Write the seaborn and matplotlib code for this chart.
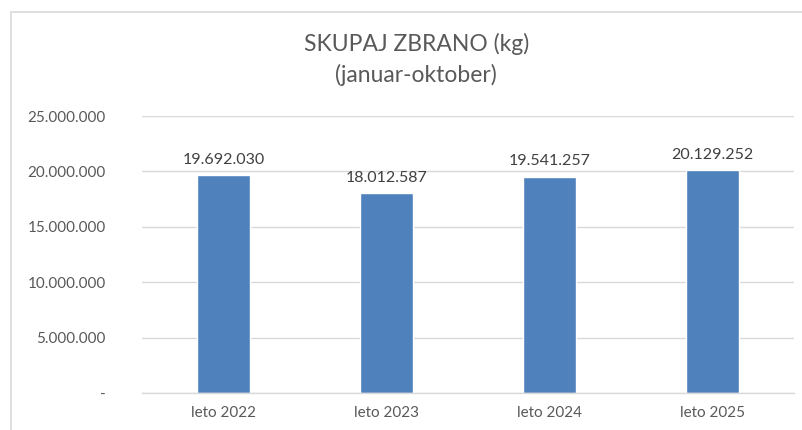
# ============================================
# SKUPAJ ZBRANO - BAR CHART
# ============================================

import matplotlib
matplotlib.use("Agg")

import matplotlib.pyplot as plt
import seaborn as sns
import pandas as pd
from matplotlib.ticker import FuncFormatter, MultipleLocator
from matplotlib.patches import Rectangle

# ============================================
# DATA
# ============================================

years = ["leto 2022", "leto 2023", "leto 2024", "leto 2025"]
collected_kg = [19692030, 18012587, 19541257, 20129252]

df = pd.DataFrame({"Leto": years, "Zbrano": collected_kg})

# ============================================
# STYLE SETTINGS
# ============================================

sns.set_style("white")

plt.rcParams['font.family'] = ['Lato', 'DejaVu Sans']

text_grey = "#595959"


def dot_thousands(v, pos=None):
    if v == 0:
        return "-"
    return f"{int(round(v)):,}".replace(",", ".")


# ============================================
# PLOT
# ============================================

fig = plt.figure(figsize=(8.02, 4.30), dpi=100)

ax = fig.add_axes([0.177, 0.086, 0.813, 0.644])

sns.barplot(
    x='Leto',
    y='Zbrano',
    data=df,
    color="#4F81BD",
    width=0.32,
    saturation=1,
    ax=ax
)

ax.set_ylim(0, 25000000)
ax.set_xlim(-0.5, 3.5)
ax.yaxis.set_major_locator(MultipleLocator(5000000))
ax.yaxis.set_major_formatter(FuncFormatter(dot_thousands))

ax.grid(axis='y', color="#D9D9D9", linewidth=1)
ax.set_axisbelow(True)

for side in ['top', 'right', 'left']:
    ax.spines[side].set_visible(False)
ax.spines['bottom'].set_color("#D9D9D9")
ax.spines['bottom'].set_linewidth(1)

ax.set_xlabel("")
ax.set_ylabel("")

ax.tick_params(axis='both', length=0, labelsize=11, colors=text_grey)
ax.tick_params(axis='y', pad=26)
ax.tick_params(axis='x', pad=9)

# data labels
for i, v in enumerate(collected_kg):
    ax.annotate(
        dot_thousands(v),
        (i, v),
        xytext=(0, 6),
        textcoords="offset points",
        ha="center",
        va="bottom",
        fontsize=11.5,
        color="#404040"
    )

# title
fig.text(
    0.519, 0.862,
    "SKUPAJ ZBRANO (kg)\n(januar-oktober)",
    ha="center",
    va="center",
    fontsize=16.5,
    color=text_grey,
    linespacing=1.45
)

# outer chart frame
fig.patches.append(
    Rectangle(
        (0.014, -0.05), 1.2, 1.022,
        transform=fig.transFigure,
        fill=False,
        edgecolor="#D9D9D9",
        linewidth=1.2
    )
)

fig.savefig("out.png", dpi=100)
